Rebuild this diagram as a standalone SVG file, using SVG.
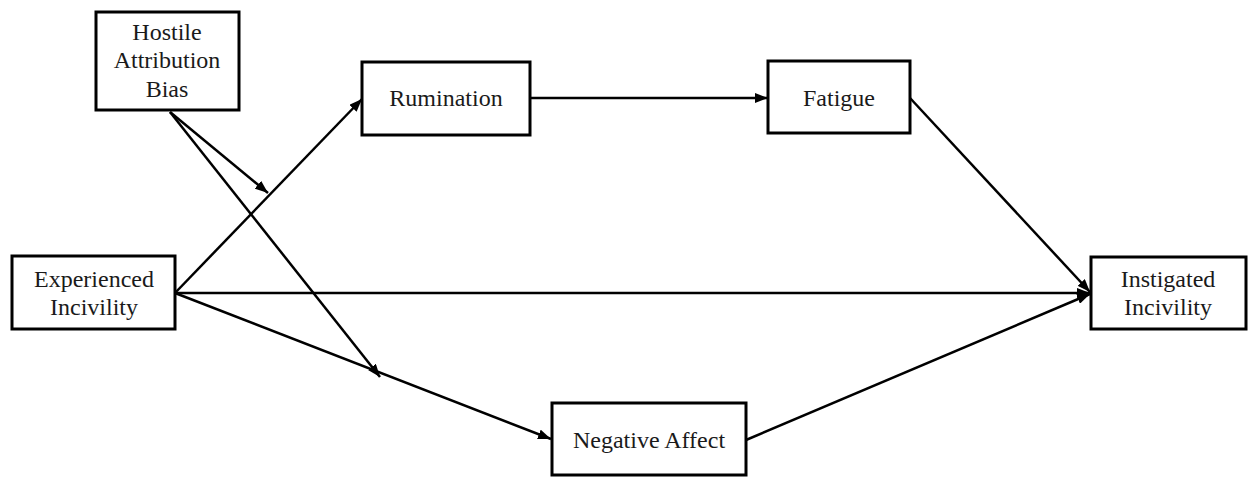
<svg xmlns="http://www.w3.org/2000/svg" width="1248" height="477" viewBox="0 0 1248 477">
<style>
.box{fill:#fff;stroke:#000;stroke-width:3}
.lbl{font-family:"Liberation Serif","Times New Roman",serif;font-size:24px;fill:#1a1a1a;text-anchor:middle}
.edge{stroke:#000;stroke-width:2.5;fill:none;marker-end:url(#arr)}
</style>
<defs>
<marker id="arr" markerUnits="userSpaceOnUse" viewBox="0 0 13 10" refX="13" refY="5" markerWidth="13" markerHeight="10" orient="auto">
<path d="M0,0 L13,5 L0,10 Z" fill="#000"/>
</marker>
</defs>
<rect width="1248" height="477" fill="#fff"/>
<g id="connectors">
<line class="edge" x1="175" y1="293" x2="362" y2="99"/>
<line class="edge" x1="530" y1="98" x2="768" y2="98"/>
<line class="edge" x1="910" y1="98" x2="1090" y2="292"/>
<line class="edge" x1="175" y1="293" x2="1090" y2="293"/>
<line class="edge" x1="175" y1="293" x2="551" y2="439"/>
<line class="edge" x1="746" y1="440" x2="1090" y2="294"/>
<line class="edge" x1="170" y1="112" x2="268" y2="193"/>
<line class="edge" x1="170" y1="112" x2="380" y2="377"/>
</g>
<g id="hostile">
<rect class="box" x="96" y="12" width="143" height="98"/>
<text class="lbl" x="167" y="40">Hostile</text>
<text class="lbl" x="167" y="68">Attribution</text>
<text class="lbl" x="167" y="97">Bias</text>
</g>
<g id="experienced">
<rect class="box" x="12" y="256" width="163" height="73"/>
<text class="lbl" x="94" y="287">Experienced</text>
<text class="lbl" x="94" y="315">Incivility</text>
</g>
<g id="rumination">
<rect class="box" x="362" y="62" width="168" height="73"/>
<text class="lbl" x="446" y="106">Rumination</text>
</g>
<g id="fatigue">
<rect class="box" x="768" y="61" width="142" height="72"/>
<text class="lbl" x="839" y="106">Fatigue</text>
</g>
<g id="instigated">
<rect class="box" x="1091" y="257" width="155" height="72"/>
<text class="lbl" x="1168" y="287">Instigated</text>
<text class="lbl" x="1168" y="315">Incivility</text>
</g>
<g id="negative">
<rect class="box" x="552" y="403" width="194" height="72"/>
<text class="lbl" x="649" y="448">Negative Affect</text>
</g>
</svg>
